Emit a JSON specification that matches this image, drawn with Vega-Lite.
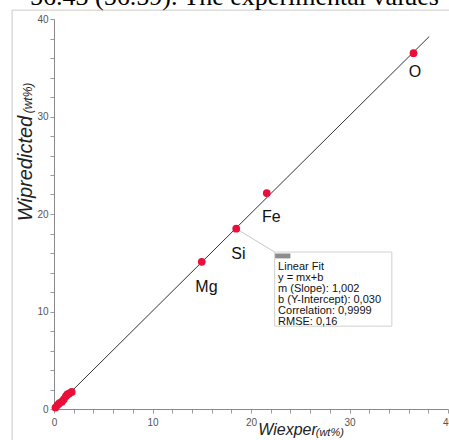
{
  "$schema": "https://vega.github.io/schema/vega-lite/v6.json",
  "width": 394,
  "height": 390,
  "autosize": {"type": "none"},
  "padding": {"left": 54, "right": 1, "top": 19, "bottom": 31},
  "background": "white",
  "config": {"font": "Liberation Sans", "view": {"stroke": null}},
  "datasets": {
    "frame": [{"x": -4.25, "x2": 46, "y": 40.9, "y2": -6}],
    "headline": [{"x": -2.43, "y": 41.45, "label": "56.43 (56.59). The experimental values"}],
    "fit": [{"x": 0, "y": 0.03}, {"x": 38.1, "y": 38.21}],
    "connector": [{"x": 18.5, "y": 18.5, "x2": 22.47, "y2": 16.05}],
    "box": [{"x": 22.4, "x2": 34.3, "y": 16.1, "y2": 8.5}],
    "tab": [{"x": 22.45, "x2": 24.0, "y": 15.95, "y2": 15.45}],
    "boxtext": [{"x": 22.75, "y": 15.2, "label": "Linear Fit\ny = mx+b\nm (Slope): 1,002\nb (Y-Intercept): 0,030\nCorrelation: 0,9999\nRMSE: 0,16"}],
    "points": [
      {"element": "O", "x": 36.5, "y": 36.5},
      {"element": "Fe", "x": 21.6, "y": 22.15},
      {"element": "Si", "x": 18.5, "y": 18.5},
      {"element": "Mg", "x": 15.0, "y": 15.1},
      {"element": "a", "x": 0.15, "y": 0.15},
      {"element": "b", "x": 0.35, "y": 0.4},
      {"element": "c", "x": 0.55, "y": 0.6},
      {"element": "d", "x": 0.8, "y": 0.75},
      {"element": "e", "x": 1.0, "y": 1.0},
      {"element": "f", "x": 1.2, "y": 1.3},
      {"element": "g", "x": 1.35, "y": 1.5},
      {"element": "h", "x": 1.55, "y": 1.6},
      {"element": "i", "x": 1.8, "y": 1.75}
    ],
    "labels": [
      {"label": "O", "x": 36.64, "y": 34.56},
      {"label": "Fe", "x": 22.06, "y": 19.69},
      {"label": "Si", "x": 18.72, "y": 15.9},
      {"label": "Mg", "x": 15.48, "y": 12.51}
    ],
    "xsub": [{"x": 28.0, "y": -2.45, "label": "(wt%)"}],
    "ysub": [{"x": -2.65, "y": 31.9, "label": "(wt%)"}]
  },
  "encoding": {
    "x": {
      "field": "x",
      "type": "quantitative",
      "scale": {"domain": [0, 40], "nice": false, "zero": false},
      "axis": {
        "values": [0, 2, 4, 6, 8, 10, 12, 14, 16, 18, 20, 22, 24, 26, 28, 30, 32, 34, 36, 38, 40],
        "labelExpr": "datum.value % 10 == 0 ? datum.label : ''",
        "labelOverlap": false,
        "labelFlush": false,
        "grid": false,
        "tickSize": 4,
        "tickColor": "#9a9a9a",
        "domainColor": "#8a8a8a",
        "labelColor": "#555555",
        "labelFontSize": 10,
        "labelPadding": 4,
        "title": "Wiexper",
        "titleFont": "Liberation Sans",
        "titleFontSize": 16,
        "titleFontStyle": "italic",
        "titleFontWeight": "normal",
        "titleColor": "#222222",
        "titleX": 233,
        "titleY": 20,
        "titleAlign": "center",
        "titleBaseline": "middle"
      }
    },
    "y": {
      "field": "y",
      "type": "quantitative",
      "scale": {"domain": [0, 40], "nice": false, "zero": false},
      "axis": {
        "values": [0, 2, 4, 6, 8, 10, 12, 14, 16, 18, 20, 22, 24, 26, 28, 30, 32, 34, 36, 38, 40],
        "labelExpr": "datum.value % 10 == 0 ? datum.label : ''",
        "labelOverlap": false,
        "labelFlush": false,
        "grid": false,
        "tickSize": 4,
        "tickColor": "#9a9a9a",
        "domainColor": "#8a8a8a",
        "labelColor": "#555555",
        "labelFontSize": 10,
        "labelPadding": 2,
        "title": "Wipredicted",
        "titleFont": "Liberation Sans",
        "titleFontSize": 20,
        "titleFontStyle": "italic",
        "titleFontWeight": "normal",
        "titleColor": "#222222",
        "titleX": -29,
        "titleY": 149,
        "titleAngle": 270,
        "titleAlign": "center",
        "titleBaseline": "middle"
      }
    }
  },
  "layer": [
    {
      "data": {"name": "frame"},
      "mark": {"type": "rect", "fill": null, "stroke": "#dcdcdc", "strokeWidth": 1.5},
      "encoding": {"x2": {"field": "x2"}, "y2": {"field": "y2"}}
    },
    {
      "data": {"name": "headline"},
      "mark": {"type": "text", "align": "left", "baseline": "alphabetic", "font": "Liberation Serif", "fontSize": 26, "color": "#000000"},
      "encoding": {"text": {"field": "label"}}
    },
    {
      "data": {"name": "fit"},
      "mark": {"type": "line", "color": "#333333", "strokeWidth": 1}
    },
    {
      "data": {"name": "connector"},
      "mark": {"type": "rule", "color": "#c8c8c8", "strokeWidth": 1},
      "encoding": {"x2": {"field": "x2"}, "y2": {"field": "y2"}}
    },
    {
      "data": {"name": "box"},
      "mark": {"type": "rect", "fill": "white", "stroke": "#d0d0d0", "strokeWidth": 1},
      "encoding": {"x2": {"field": "x2"}, "y2": {"field": "y2"}}
    },
    {
      "data": {"name": "tab"},
      "mark": {"type": "rect", "fill": "#8c8c8c"},
      "encoding": {"x2": {"field": "x2"}, "y2": {"field": "y2"}}
    },
    {
      "data": {"name": "boxtext"},
      "mark": {"type": "text", "align": "left", "baseline": "top", "fontSize": 11, "lineBreak": "\n", "lineHeight": 11, "color": "#111111"},
      "encoding": {"text": {"field": "label"}}
    },
    {
      "data": {"name": "points"},
      "mark": {"type": "circle", "size": 60, "color": "#e8103a", "opacity": 1}
    },
    {
      "data": {"name": "labels"},
      "mark": {"type": "text", "align": "center", "baseline": "middle", "fontSize": 16, "color": "#111111"},
      "encoding": {"text": {"field": "label"}}
    },
    {
      "data": {"name": "xsub"},
      "mark": {"type": "text", "align": "center", "baseline": "middle", "fontSize": 11, "fontStyle": "italic", "color": "#222222"},
      "encoding": {"text": {"field": "label"}}
    },
    {
      "data": {"name": "ysub"},
      "mark": {"type": "text", "align": "center", "baseline": "middle", "fontSize": 12, "fontStyle": "italic", "angle": 270, "color": "#222222"},
      "encoding": {"text": {"field": "label"}}
    }
  ]
}
